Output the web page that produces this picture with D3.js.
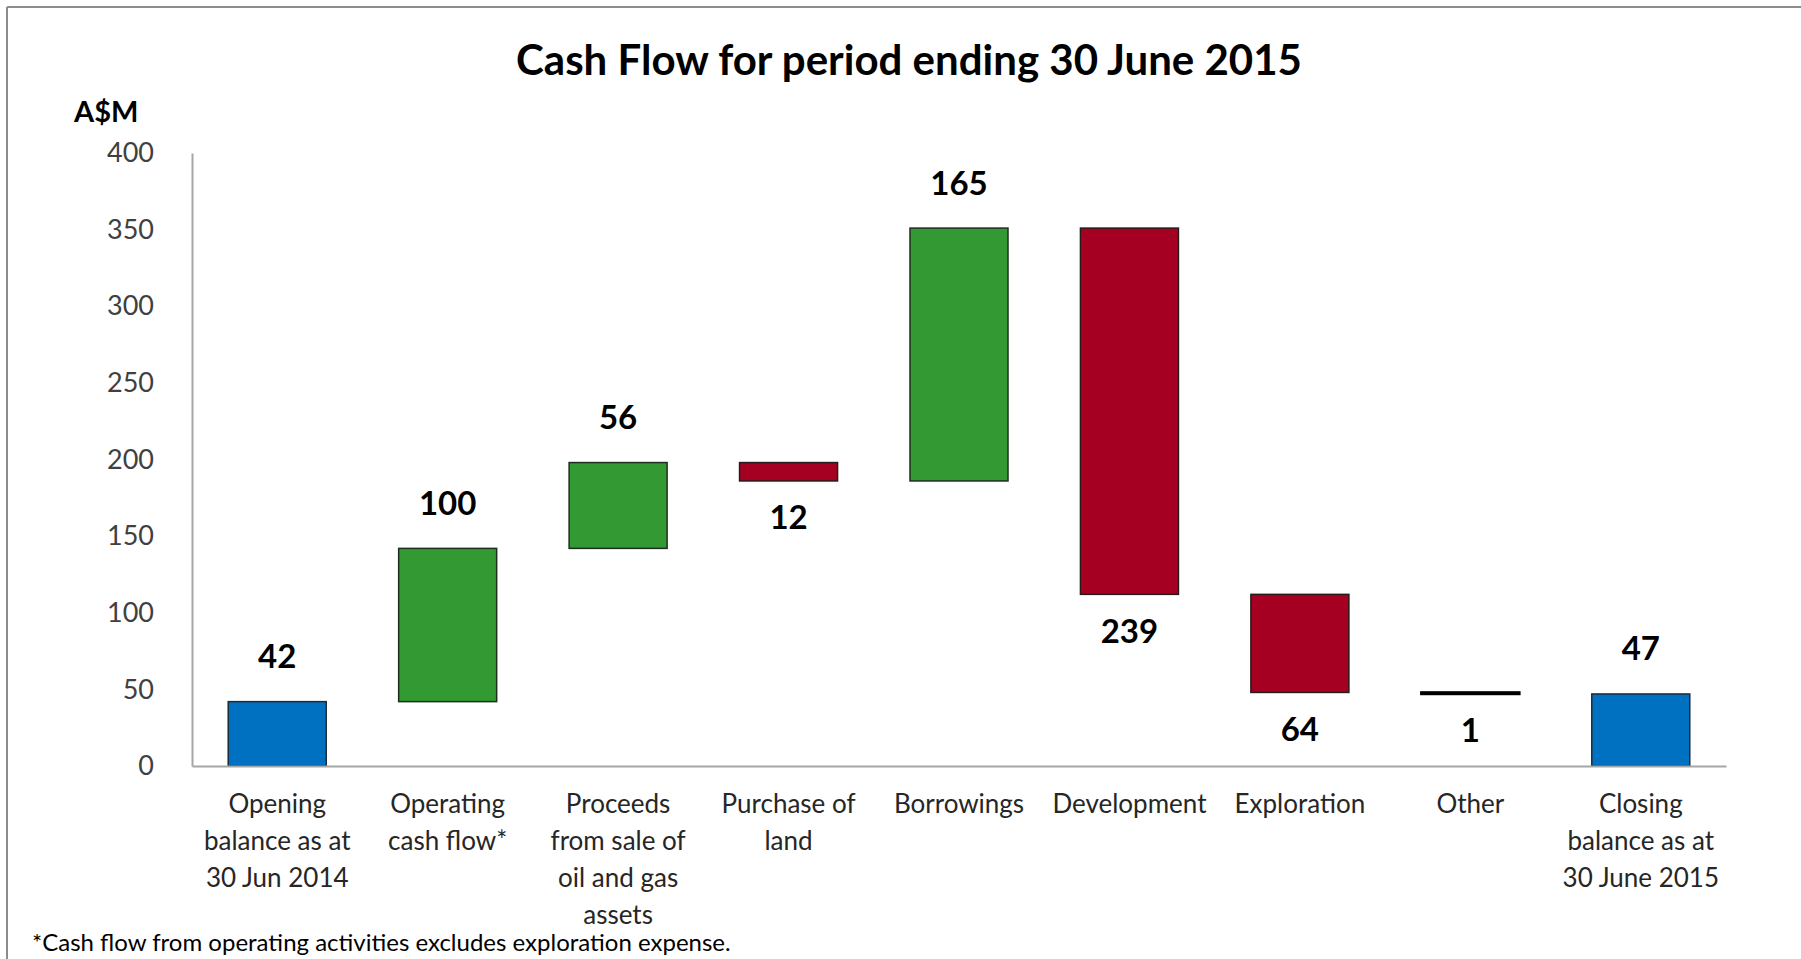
<!DOCTYPE html>
<html lang="en">
<head>
<meta charset="UTF-8">
<title>Cash Flow for period ending 30 June 2015</title>
<script src="https://d3js.org/d3.v7.min.js"></script>
<style>
  body { margin: 0; background: #fff; }
  svg { display: block; font-family: Lato, "Open Sans", sans-serif; }
</style>
</head>
<body>
<svg id="chart" width="1801" height="959"></svg>
<script>
// waterfall data (A$M)
const categories = [
  ["Opening", "balance as at", "30 Jun 2014"],
  ["Operating", "cash flow*"],
  ["Proceeds", "from sale of", "oil and gas", "assets"],
  ["Purchase of", "land"],
  ["Borrowings"],
  ["Development"],
  ["Exploration"],
  ["Other"],
  ["Closing", "balance as at", "30 June 2015"]
];
const changes = [42, 100, 56, -12, 165, -239, -64, -1, 47];
const kinds = ["total", "up", "up", "down", "up", "down", "down", "down", "total"];
const yTicks = [0, 50, 100, 150, 200, 250, 300, 350, 400];

const colors = { total: "#0070C0", up: "#339933", down: "#A50021" };
const strokes = { total: "#1a2a3a", up: "#1e2e1e", down: "#2a1a1a" };

// running totals -> [start, end] for each bar
let running = 0;
const bars = changes.map((v, i) => {
  let start, end;
  if (kinds[i] === "total") { start = 0; end = v; running = v; }
  else { start = running; end = running + v; running = end; }
  return { i, v: Math.abs(v), start, end, kind: kinds[i], label: categories[i] };
});

const svg = d3.select("#chart");
const margin = { left: 192, right: 75, top: 153, bottom: 193 };
const W = 1801, H = 959;

// chart frame (top + left edges only visible)
svg.append("line").attr("x1", 7).attr("x2", W).attr("y1", 7).attr("y2", 7)
  .attr("stroke", "#8c8c8c").attr("stroke-width", 2);
svg.append("line").attr("x1", 7).attr("x2", 7).attr("y1", 7).attr("y2", H)
  .attr("stroke", "#8c8c8c").attr("stroke-width", 2);

const x = d3.scaleBand()
  .domain(d3.range(categories.length))
  .range([margin.left, W - margin.right])
  .paddingInner(0.425)
  .paddingOuter(0.2125);

const y = d3.scaleLinear()
  .domain([0, 400])
  .range([H - margin.bottom, margin.top]);

// title
svg.append("text")
  .attr("x", 909).attr("y", 64)
  .attr("text-anchor", "middle").attr("dominant-baseline", "middle")
  .attr("font-size", 42).attr("font-weight", "bold").attr("fill", "#000")
  .text("Cash Flow for period ending 30 June 2015");

// unit label
svg.append("text")
  .attr("x", 74).attr("y", 115)
  .attr("dominant-baseline", "middle")
  .attr("font-size", 29).attr("font-weight", "bold").attr("fill", "#000")
  .text("A$M");

// y axis
const yAxis = svg.append("g")
  .attr("transform", `translate(${margin.left},0)`)
  .call(d3.axisLeft(y).tickValues(yTicks).tickSize(0).tickPadding(38));
yAxis.select(".domain").attr("stroke", "#a6a6a6").attr("stroke-width", 2);
yAxis.selectAll("text").attr("font-size", 27).attr("fill", "#404040")
  .attr("font-family", "Lato, sans-serif");

// bars
svg.append("g").selectAll("rect")
  .data(bars)
  .join("rect")
  .attr("x", d => x(d.i))
  .attr("width", x.bandwidth())
  .attr("y", d => y(Math.max(d.start, d.end)))
  .attr("height", d => Math.max(1, y(Math.min(d.start, d.end)) - y(Math.max(d.start, d.end))))
  .attr("fill", d => colors[d.kind])
  .attr("stroke", d => d.v <= 1 ? "#000" : strokes[d.kind])
  .attr("stroke-width", d => d.v <= 1 ? 2.5 : 1.5);

// x axis
const xAxis = svg.append("g")
  .attr("transform", `translate(0,${y(0)})`)
  .call(d3.axisBottom(x).tickSize(0).tickFormat(""));
xAxis.select(".domain").attr("stroke", "#a6a6a6").attr("stroke-width", 2);

// category labels (multi-line)
const catG = svg.append("g").selectAll("text")
  .data(bars)
  .join("text")
  .attr("text-anchor", "middle")
  .attr("font-size", 26)
  .attr("fill", "#262626");
catG.selectAll("tspan")
  .data(d => d.label.map(t => ({ t, cx: x(d.i) + x.bandwidth() / 2 })))
  .join("tspan")
  .attr("x", d => d.cx)
  .attr("y", (d, k) => y(0) + 47 + k * 37)
  .text(d => d.t);

// value labels: above rising/total bars, below falling bars
svg.append("g").selectAll("text")
  .data(bars)
  .join("text")
  .attr("x", d => x(d.i) + x.bandwidth() / 2)
  .attr("y", d => d.kind === "down" ? y(d.end) + 40 : y(d.end) - 42)
  .attr("text-anchor", "middle").attr("dominant-baseline", "middle")
  .attr("font-size", 33).attr("font-weight", "bold").attr("fill", "#000")
  .text(d => d.v);

// footnote
svg.append("text")
  .attr("x", 32).attr("y", 945)
  .attr("dominant-baseline", "middle")
  .attr("font-size", 24).attr("fill", "#000")
  .text("*Cash flow from operating activities excludes exploration expense.");
</script>
</body>
</html>
